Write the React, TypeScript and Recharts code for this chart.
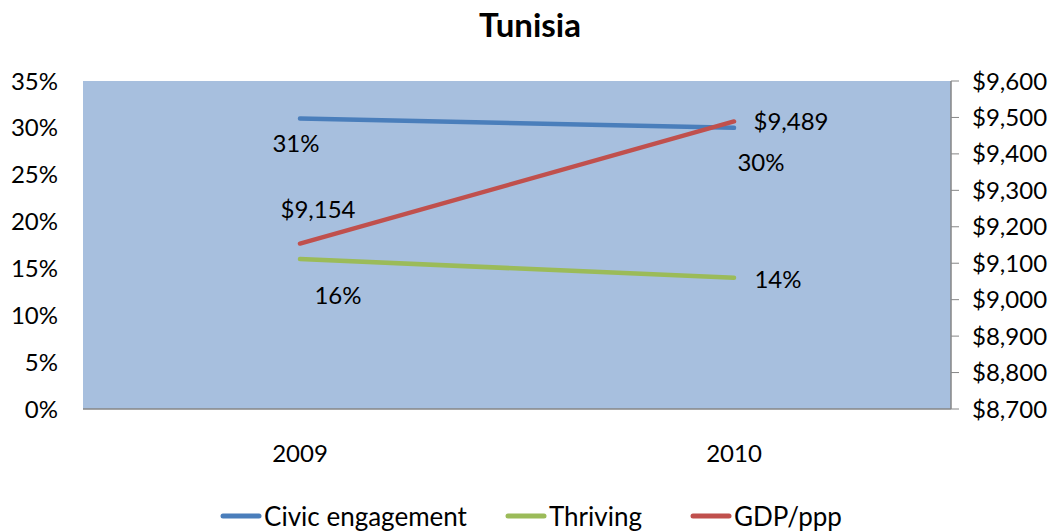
import React from 'react';
import { LineChart, Line, XAxis, YAxis, CartesianGrid, Legend, LabelList } from 'recharts';

const years = ['2009', '2010'];
const civicEngagement = [0.31, 0.30];
const thriving = [0.16, 0.14];
const gdpPpp = [9154, 9489];
const pctTicks = [0, 0.05, 0.1, 0.15, 0.2, 0.25, 0.3, 0.35];
const gdpTicks = [8700, 8800, 8900, 9000, 9100, 9200, 9300, 9400, 9500, 9600];
const legendOrder = ['Civic engagement', 'Thriving', 'GDP/ppp'];

const data = years.map((y, i) => ({
  year: y,
  civic: civicEngagement[i],
  thriving: thriving[i],
  gdp: gdpPpp[i],
}));

const FONT = 'Lato, "DejaVu Sans", sans-serif';
const fmtPct = (v: number) => `${Math.round(v * 100)}%`;
const fmtMoney = (v: number) => `$${Math.round(v).toLocaleString('en-US')}`;

const makeLabel = (offsets: number[][], fmt: (v: number) => string) => (props: any) => {
  const { x, y, value, index } = props;
  const off = offsets[index] || [0, 0];
  return (
    <text
      x={x + off[0]}
      y={y + off[1]}
      dy="0.355em"
      textAnchor="middle"
      fontFamily={FONT}
      fontSize={24}
      fill="#000"
    >
      {fmt(value)}
    </text>
  );
};

const civicOff = [[-4, 25], [27, 35]];
const thrivingOff = [[38, 36], [44, 2]];
const gdpOff = [[18, -34], [57, 0]];
const legendGaps = [0, 38, 48];

const renderLegend = (props: any) => {
  const payload = [...(props.payload || [])].sort(
    (a: any, b: any) => legendOrder.indexOf(a.value) - legendOrder.indexOf(b.value)
  );
  return (
    <div
      style={{
        height: 30,
        display: 'flex',
        justifyContent: 'center',
        alignItems: 'flex-start',
        fontFamily: FONT,
        fontSize: 26,
        color: '#000',
        paddingLeft: 8,
      }}
    >
      {payload.map((p: any, i: number) => (
        <div key={p.value} style={{ display: 'flex', alignItems: 'center', height: 30, marginLeft: legendGaps[i] }}>
          <svg width={42} height={8} style={{ marginRight: 2 }}>
            <line x1={3} y1={4} x2={39} y2={4} stroke={p.color} strokeWidth={5} strokeLinecap="round" />
          </svg>
          <span style={{ lineHeight: '30px' }}>{p.value}</span>
        </div>
      ))}
    </div>
  );
};

export default function App() {
  return (
    <div style={{ position: 'absolute', left: 0, top: 0, width: 1054, height: 531, background: '#fff', overflow: 'hidden' }}>
      <div
        style={{
          position: 'absolute',
          left: 3,
          top: 4,
          width: 1054,
          textAlign: 'center',
          fontFamily: FONT,
          fontWeight: 700,
          fontSize: 33,
          lineHeight: '40px',
          color: '#000',
        }}
      >
        Tunisia
      </div>
      <LineChart width={1054} height={531} data={data} margin={{ top: 81, right: 0, bottom: 0, left: 0 }}>
        <CartesianGrid horizontal={false} vertical={false} fill="#A7BFDE" />
        <XAxis
          dataKey="year"
          padding={{ left: 217, right: 217 }}
          axisLine={{ stroke: '#868686', strokeWidth: 1.5 }}
          tickLine={false}
          tickSize={0}
          tickMargin={36}
          height={92}
          tick={{ fontFamily: FONT, fontSize: 24, fill: '#000' }}
        />
        <YAxis
          yAxisId="left"
          domain={[0, 0.35]}
          ticks={pctTicks}
          tickFormatter={fmtPct}
          width={83}
          axisLine={false}
          tickLine={false}
          tickSize={0}
          tickMargin={25}
          interval={0}
          tick={{ fontFamily: FONT, fontSize: 24, fill: '#000' }}
        />
        <YAxis
          yAxisId="right"
          orientation="right"
          domain={[8700, 9600]}
          ticks={gdpTicks}
          tickFormatter={fmtMoney}
          width={103}
          axisLine={{ stroke: '#868686', strokeWidth: 1.5 }}
          tickLine={{ stroke: '#868686' }}
          tickSize={8}
          tickMargin={13}
          interval={0}
          tick={{ fontFamily: FONT, fontSize: 24, fill: '#000', textAnchor: 'start' }}
        />
        <Legend verticalAlign="bottom" content={renderLegend} />
        <Line
          yAxisId="left"
          dataKey="civic"
          name="Civic engagement"
          stroke="#4A7EBB"
          strokeWidth={4.5}
          strokeLinecap="round"
          dot={false}
          activeDot={false}
          isAnimationActive={false}
        >
          <LabelList dataKey="civic" content={makeLabel(civicOff, fmtPct)} />
        </Line>
        <Line
          yAxisId="left"
          dataKey="thriving"
          name="Thriving"
          stroke="#9BBB59"
          strokeWidth={4.5}
          strokeLinecap="round"
          dot={false}
          activeDot={false}
          isAnimationActive={false}
        >
          <LabelList dataKey="thriving" content={makeLabel(thrivingOff, fmtPct)} />
        </Line>
        <Line
          yAxisId="right"
          dataKey="gdp"
          name="GDP/ppp"
          stroke="#C0504D"
          strokeWidth={4.5}
          strokeLinecap="round"
          dot={false}
          activeDot={false}
          isAnimationActive={false}
        >
          <LabelList dataKey="gdp" content={makeLabel(gdpOff, fmtMoney)} />
        </Line>
      </LineChart>
    </div>
  );
}
